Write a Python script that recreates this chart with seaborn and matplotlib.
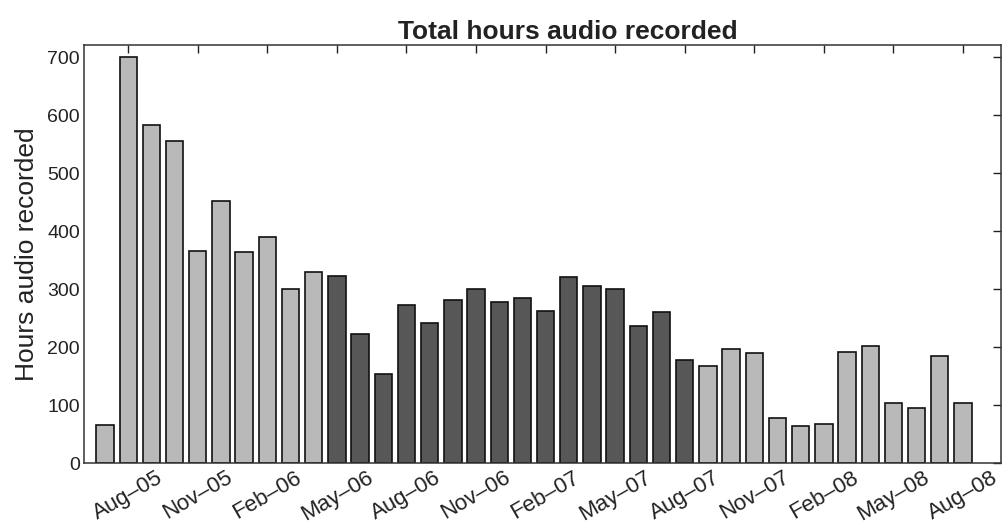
import matplotlib

matplotlib.use("Agg")
import matplotlib.pyplot as plt
import matplotlib.transforms as mtransforms
import pandas as pd
import seaborn as sns


months = [
    "Jul-05", "Aug-05", "Sep-05", "Oct-05", "Nov-05", "Dec-05",
    "Jan-06", "Feb-06", "Mar-06", "Apr-06", "May-06", "Jun-06",
    "Jul-06", "Aug-06", "Sep-06", "Oct-06", "Nov-06", "Dec-06",
    "Jan-07", "Feb-07", "Mar-07", "Apr-07", "May-07", "Jun-07",
    "Jul-07", "Aug-07", "Sep-07", "Oct-07", "Nov-07", "Dec-07",
    "Jan-08", "Feb-08", "Mar-08", "Apr-08", "May-08", "Jun-08",
    "Jul-08", "Aug-08",
]
hours = [
    65, 700, 583, 556, 365, 452, 364, 389, 301, 329, 322, 222,
    154, 273, 241, 282, 301, 278, 284, 263, 321, 306, 300, 237,
    261, 178, 168, 196, 190, 78, 64, 67, 192, 201, 104, 95,
    184, 104,
]
# May-06 .. Aug-07 drawn dark
phase = ["light"] * 10 + ["dark"] * 16 + ["light"] * 12
tick_every = 3
tick_start = 1

df = pd.DataFrame({"month": months, "hours": hours, "phase": phase})

sns.set_style("white")
plt.rcParams["font.family"] = ["Liberation Sans", "DejaVu Sans"]

fig = plt.figure(figsize=(10.02, 5.27), dpi=100)
ax = fig.add_axes([0.084, 0.1214, 0.915, 0.7932])

sns.barplot(
    data=df, x="month", y="hours", hue="phase", dodge=False,
    palette={"light": "#b9b9b9", "dark": "#575757"},
    width=0.75, edgecolor="#111111", linewidth=1.2, legend=False, ax=ax,
)

ax.set_xlim(-0.9, len(months) + 0.64)
ax.set_ylim(0, 721)
ax.set_yticks(range(0, 701, 100))
ax.tick_params(axis="y", labelsize=14, pad=3)

pos = list(range(tick_start, len(months), tick_every))
ax.set_xticks(pos)
ax.set_xticklabels([months[i].replace("-", "\u2013") for i in pos],
                   rotation=30, ha="center", va="top", fontsize=16)
shift = mtransforms.ScaledTranslation(-12 / 100, 0, fig.dpi_scale_trans)
for lab in ax.get_xticklabels():
    lab.set_transform(lab.get_transform() + shift)

ax.tick_params(direction="in", length=6, width=1, top=True, right=True,
               color="#222222", labelcolor="#222222")
ax.tick_params(axis="x", pad=3)
for s in ax.spines.values():
    s.set_color("#333333")
    s.set_linewidth(1.1)

ax.set_xlabel("")
ax.set_ylabel("Hours audio recorded", fontsize=19, color="#222222", labelpad=6)
ax.set_title("Total hours audio recorded", fontsize=19, fontweight="bold",
             color="#222222", pad=4, x=0.528)

fig.savefig("out.png", dpi=100)
